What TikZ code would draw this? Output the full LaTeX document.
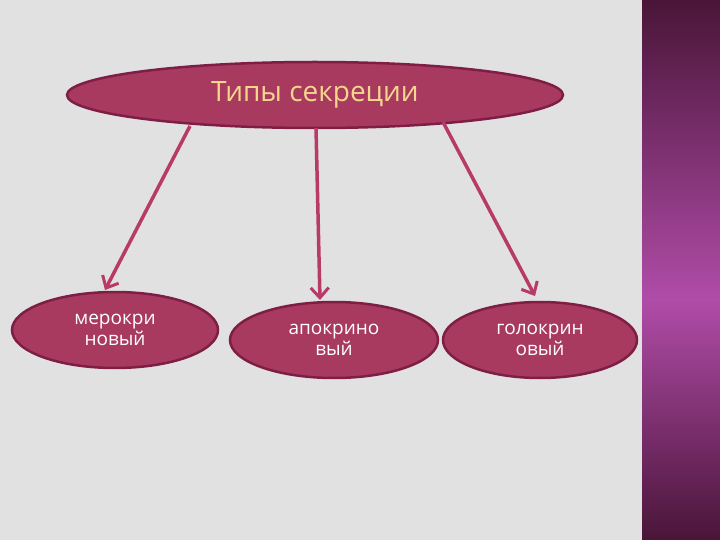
\documentclass[tikz,border=0pt]{standalone}
\usepackage{fontspec}
\setmainfont{Open Sans}
\usetikzlibrary{arrows.meta,shapes.geometric}
\definecolor{bg}{HTML}{E2E1E1}
\definecolor{fillc}{HTML}{A83A60}
\definecolor{edgec}{HTML}{7E1E45}
\definecolor{titlec}{HTML}{F6D68C}
\definecolor{arr}{HTML}{B83A66}
\definecolor{ptop}{HTML}{4A1538}
\definecolor{pmid}{HTML}{B04CA8}
\begin{document}
\begin{tikzpicture}[x=1pt,y=-1pt,
  ell/.style={ellipse,draw=edgec,line width=2.5pt,fill=fillc,inner sep=0pt},
  sub/.style={ell,text=white,font=\fontsize{19}{21}\selectfont,align=center},
  conn/.style={draw=arr,line width=3.5pt,-{Straight Barb[length=10pt,width=18pt,line width=3pt]}}]
\useasboundingbox (0,0) rectangle (720,540);
\fill[bg] (0,0) rectangle (720,540);
\shade[top color=ptop,bottom color=pmid] (642,0) rectangle (720,300);
\shade[top color=pmid,bottom color=ptop] (642,300) rectangle (720,540);
\node[ell,minimum width=496pt,minimum height=66pt,text=titlec,font=\fontsize{28}{30}\selectfont] (t) at (315,95) {Типы секреции};
\node[sub,minimum width=206pt,minimum height=76pt] (a) at (115,330) {мерокри\\новый};
\node[sub,minimum width=208pt,minimum height=76pt] (b) at (334,340) {апокрино\\вый};
\node[sub,minimum width=194pt,minimum height=76pt] (c) at (540,340) {голокрин\\овый};
\coordinate (a1) at (190,126); \coordinate (a2) at (105,290);
\coordinate (b1) at (316,128); \coordinate (b2) at (320,300);
\coordinate (c1) at (443,122); \coordinate (c2) at (535,296);
\draw[conn] (a1) -- (a2);
\draw[conn] (b1) -- (b2);
\draw[conn] (c1) -- (c2);
\end{tikzpicture}
\end{document}
